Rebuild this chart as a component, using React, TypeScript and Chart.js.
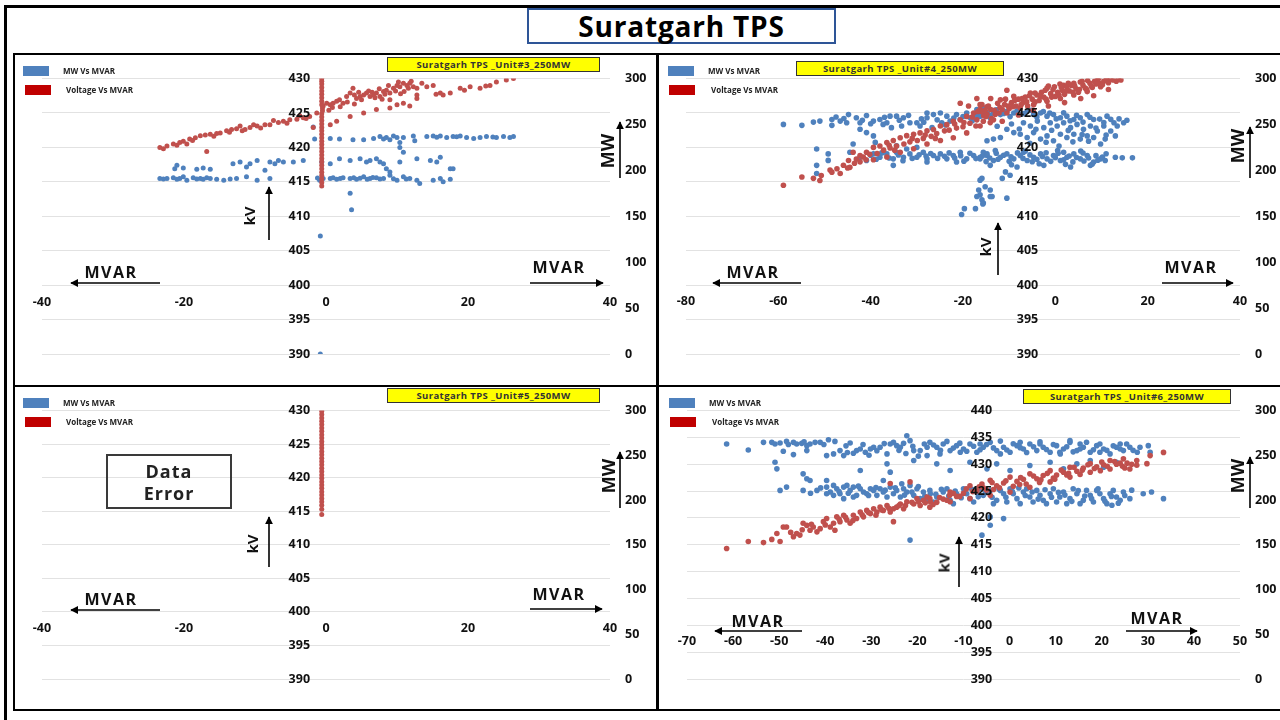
import React, { useEffect, useRef } from 'react';
import { Chart, registerables } from 'chart.js';
Chart.register(...registerables);

type P = [number, number];

// ---------- Unit#3 ----------
const u3Voltage: P[] = [
  [-23.4,420.0],[-22.9,419.8],[-22.4,420.2],[-21.5,420.5],[-21.0,420.3],[-20.6,420.7],[-20.1,420.9],[-19.6,420.5],[-19.2,421.2],[-18.8,421.0],
  [-18.4,421.4],[-17.7,421.7],[-17.0,421.8],[-16.8,419.4],[-16.3,421.9],[-15.8,421.6],[-15.4,422.0],[-14.9,422.1],[-14.0,422.4],[-13.6,422.2],
  [-13.3,422.6],[-12.6,422.7],[-12.1,423.1],[-11.8,422.4],[-11.4,422.6],[-10.7,422.9],[-10.2,423.3],[-9.7,423.1],[-9.2,422.8],[-8.6,423.3],
  [-7.9,423.3],[-7.4,423.9],[-6.7,423.6],[-6.0,423.8],[-5.5,423.5],[-5.1,424.0],[-4.1,424.1],[-3.7,424.6],[-3.2,424.3],[-2.8,424.2],
  [-2.3,424.5],[-1.8,422.9],[-1.3,425.0],
  [-0.6,414.4],[-0.6,414.9],[-0.6,415.4],[-0.6,415.9],[-0.6,416.4],[-0.6,416.9],[-0.6,417.4],[-0.6,417.9],[-0.6,418.4],[-0.6,418.9],
  [-0.6,419.4],[-0.6,419.9],[-0.6,420.4],[-0.6,420.9],[-0.6,421.4],[-0.6,421.9],[-0.6,422.4],[-0.6,422.9],[-0.6,423.4],[-0.6,423.9],
  [-0.6,424.4],[-0.6,424.9],[-0.5,425.3],[-0.5,425.7],[-0.6,426.2],[-0.6,426.7],[-0.6,427.2],[-0.6,427.7],[-0.6,428.2],[-0.6,428.7],
  [-0.6,429.2],[-0.6,429.6],[-0.6,430.0],
  [-0.4,426.0],[0.1,426.4],[0.6,426.2],[1.0,426.4],[1.5,426.7],[1.9,426.9],[2.4,426.4],[2.9,427.4],[3.4,427.9],[3.8,428.6],
  [4.3,427.1],[4.8,427.4],[5.3,427.6],[5.7,427.9],[6.2,427.4],[6.7,427.6],[7.1,427.9],[7.6,427.4],[8.1,428.1],[8.5,428.3],
  [9.0,427.9],[9.5,428.6],[10.0,429.0],[10.4,428.8],[10.9,429.3],[11.4,429.0],[11.8,429.3],[12.3,428.8],[12.8,428.6],[14.2,428.8],
  [15.1,429.0],[16.1,427.9],[16.5,427.6],[17.5,427.9],[18.9,428.6],[20.3,428.8],[21.7,428.6],[23.1,429.0],[24.0,429.5],[25.4,429.8],
  [26.4,430.0],
  [0.6,423.3],[1.5,423.8],[3.4,424.5],[5.3,425.0],[7.1,425.5],[9.0,425.7],[10.0,426.2],[10.9,426.4],[12.8,427.1],[9.0,426.9],
  [11.8,426.0],[12.8,427.6],
  [0.4,425.4],[0.9,425.8],[2.0,425.9],[3.0,426.6],[4.0,426.3],[5.0,426.9],[6.0,428.2],[7.5,428.5],[8.8,429.0],[10.5,427.8],
  [11.0,428.1],[13.5,429.3],[15.5,427.7],[19.5,428.3],[22.5,428.9],
  [4.6,428.0],[6.5,428.0],[7.9,427.0],[8.3,427.7],[9.8,428.2],[11.6,428.6],[4.0,427.6],[6.9,427.2],[12.0,429.6],[10.2,429.5],
];
const u3Mw: P[] = [
  [-1.8,247.2],[-1.6,234.0],[0.6,234.7],[1.9,234.0],[3.8,233.2],[5.3,233.2],[6.7,234.7],[7.6,236.8],[8.1,234.0],[8.5,235.8],
  [9.0,233.2],[9.5,237.5],[10.0,235.8],[10.4,230.4],[10.4,225.0],[10.9,235.8],[10.9,219.7],[12.3,237.5],[12.5,232.2],[14.2,236.8],
  [15.1,237.5],[15.6,236.0],[16.1,237.5],[17.0,235.8],[17.9,236.8],[18.4,236.5],[18.9,237.5],[19.8,235.8],[20.8,234.7],[21.7,235.8],
  [22.6,236.8],[23.5,236.2],[24.0,235.8],[25.0,236.8],[25.9,235.8],[26.4,236.8],
  [-21.3,201.8],[-21.0,205.4],[-20.1,202.5],[-18.2,201.1],[-17.3,202.5],[-16.3,201.1],[-13.1,207.2],[-12.1,209.0],[-11.2,203.6],[-10.7,207.2],
  [-9.7,210.7],[-8.6,200.0],[-7.9,209.0],[-7.2,207.2],[-6.7,210.7],[-6.0,209.0],[-4.6,209.0],[-3.2,210.7],[-0.6,209.0],[0.6,207.2],
  [1.9,212.5],[3.4,210.7],[4.8,212.5],[5.7,209.0],[6.2,210.7],[7.1,212.5],[7.6,209.0],[8.1,207.2],[8.5,201.8],[9.0,198.3],
  [10.4,209.0],[12.8,212.5],[14.7,210.7],[15.6,209.0],[16.1,214.3],[17.5,201.8],[17.9,201.8],
  [-23.4,191.1],[-22.4,191.1],[-21.5,191.8],[-20.6,191.1],[-20.1,192.9],[-19.6,189.3],[-18.7,191.8],[-17.7,191.1],[-17.3,190.4],[-16.3,191.1],
  [-15.4,190.4],[-14.4,189.3],[-12.6,191.1],[-11.2,192.9],[-9.7,189.3],[-7.9,191.1],[-0.9,189.3],[-0.4,191.1],[0.6,191.1],[1.5,190.4],
  [2.4,191.8],[3.4,191.1],[4.3,190.4],[5.3,192.9],[6.2,191.1],[7.1,191.8],[8.1,191.1],[9.0,194.7],[10.0,189.3],[10.9,192.9],
  [11.8,191.1],[12.8,189.3],[13.2,185.7],[15.1,189.3],[16.1,191.1],[16.5,187.5],[17.5,190.4],
  [3.4,175.0],[3.6,157.0],[-0.8,128.5],[-0.8,0],
  [-22.9,190.6],[-21.0,190.4],[-18.2,190.6],[-16.8,191.9],[-13.5,190.6],[1.0,191.8],[2.0,191.0],[3.9,191.9],[4.8,191.4],[5.8,190.2],
  [6.6,192.2],[7.6,190.6],[9.5,190.8],[11.3,190.5],[-1.2,191.6],
];

// ---------- Unit#4 ----------
const u4Voltage: P[] = [
  [-58.9,414.5],[-54.9,415.7],[-52.4,415.5],[-51.0,415.2],[-50.7,415.9],[-48.8,416.7],[-48.4,416.4],[-47.3,416.9],[-46.6,416.2],[-45.9,417.4],
  [-44.8,418.1],[-44.5,417.1],[-43.8,419.3],[-43.1,418.3],[-42.3,418.8],[-42.3,417.9],[-41.6,418.6],[-40.9,419.3],[-40.2,419.0],[-39.4,420.0],
  [-39.4,418.2],[-38.0,420.2],[-37.2,419.6],[-36.5,420.7],[-36.5,418.6],[-35.8,419.9],[-35.1,421.0],[-34.4,420.2],[-33.6,421.4],[-33.6,419.3],
  [-32.2,421.7],[-31.5,420.8],[-30.7,421.9],[-30.7,419.8],[-29.9,421.0],[-29.3,422.1],[-28.6,421.3],[-27.8,422.4],[-27.8,420.5],[-26.9,421.6],
  [-26.4,422.6],[-25.7,422.0],[-24.9,423.1],[-24.9,421.0],[-23.5,423.3],[-23.0,422.5],[-22.1,423.8],[-22.1,421.4],[-21.4,422.8],[-20.6,424.0],
  [-20.0,423.0],[-19.2,424.5],[-19.2,422.1],[-18.5,423.5],[-17.7,425.0],[-17.0,424.0],[-16.3,425.5],[-16.3,423.1],[-15.5,424.6],[-14.8,425.9],
  [-14.1,423.6],
  [-17.0,427.1],[-20.6,426.4],[-15.9,426.2],[-18.8,426.0],[-10.5,428.3],[-14.0,427.1],
  [-16.3,426.2],[-11.9,426.9],[-9.0,427.4],[-5.4,427.9],[-1.8,428.6],[1.8,429.0],[5.4,429.5],[9.1,429.8],[11.2,430.0],[13.7,430.0],
  [-13.4,424.0],[-10.5,425.0],[-7.6,425.7],[-4.7,426.2],[-1.8,426.7],[1.1,427.1],[4.0,427.6],[6.9,428.1],[9.8,428.8],
  [-15.0,424.5],[-14.0,425.5],[-13.0,424.8],[-12.0,425.8],[-11.0,426.2],[-10.0,425.6],[-9.5,426.5],[-8.5,426.0],[-8.0,427.0],[-7.0,426.5],
  [-6.5,427.3],[-6.0,426.0],[-5.0,427.0],[-4.0,427.6],[-3.5,426.8],[-3.0,428.0],[-2.5,427.3],[-1.0,427.8],[-0.5,428.4],[0.0,427.4],
  [0.5,428.0],[1.5,428.3],[2.0,427.7],[2.5,428.8],[3.0,428.2],[3.5,429.0],[4.5,428.5],[5.0,428.0],[6.0,429.0],[6.5,428.6],
  [7.5,429.3],[8.0,428.7],[8.5,429.6],[9.5,429.3],[10.5,429.6],[11.5,429.4],[12.5,429.8],[-16.0,425.2],[-14.5,426.0],[-12.5,426.4],
  [-10.8,427.0],[-1.5,428.9],[1.0,429.2],[4.0,429.3],
  [-15.6,423.8],[-14.8,424.8],[-13.8,424.2],[-13.2,425.4],[-12.2,425.0],[-11.5,425.5],[-10.2,426.0],[-9.2,425.9],[-8.8,426.8],[-7.4,426.2],
  [-7.2,427.1],[-6.2,426.6],[-5.6,427.5],[-4.4,426.6],[-4.4,427.9],[-3.2,427.4],[-2.0,427.0],[-2.2,428.3],[-0.8,427.3],[-0.2,428.8],
  [0.8,427.6],[1.3,428.7],[2.2,428.1],[2.8,429.3],[3.8,428.0],[4.2,428.9],[5.2,428.4],[5.8,429.6],[6.8,428.4],[7.0,429.7],
  [7.8,428.9],[8.8,429.2],[9.4,430.0],[10.2,429.1],[11.0,429.8],[12.0,430.0],[13.2,429.6],[14.2,429.8],[-11.5,423.8],[-8.0,424.7],
  [-4.8,425.4],[-1.5,426.0],[2.0,426.5],[5.5,427.1],[8.3,427.5],[11.5,428.4],
  [-45.0,417.0],[-43.5,417.7],[-41.0,418.2],[-38.6,419.1],[-36.0,420.3],[-34.8,419.6],[-32.8,420.5],[-31.0,421.3],[-28.2,421.8],[-26.0,421.3],
  [-24.0,422.4],[-21.8,423.4],[-19.8,423.6],[-18.0,424.4],[-17.2,423.1],[-16.8,425.2],[-15.2,425.4],
];
const u4Mw: P[] = [
  [-58.9,250.0],[-54.9,249.0],[-52.4,252.5],[-51.0,253.6],[-48.4,255.4],[-48.4,249.0],[-46.6,253.6],[-45.2,251.8],[-44.8,260.7],[-43.1,257.2],
  [-42.3,251.8],[-40.9,259.7],[-39.4,253.6],[-38.0,255.4],[-36.5,251.8],[-35.8,259.0],[-34.4,259.0],[-32.9,257.2],[-31.5,251.8],[-30.0,251.8],
  [-27.8,262.5],[-26.4,260.7],[-24.9,262.5],[-23.5,259.0],[-21.4,260.7],[-19.2,262.5],[-17.0,266.1],[-15.5,267.9],
  [-42.3,244.7],[-40.9,241.1],[-39.4,237.5],[-37.3,250.0],[-35.5,246.5],[-33.3,248.2],[-29.3,248.2],[-27.8,257.2],[-26.7,246.5],[-24.6,251.8],
  [-22.8,253.6],[-20.6,255.4],[-18.4,257.2],[-17.3,259.0],[-16.3,260.7],[-14.8,262.5],[-14.1,257.2],[-43.8,228.6],[-51.7,223.2],[-49.2,217.9],
  [-49.2,210.8],[-51.7,205.4],[-51.7,196.5],
  [-44.5,219.7],[-42.3,214.3],[-40.9,210.7],[-39.4,217.9],[-38.0,214.3],[-36.5,217.9],[-35.1,212.5],[-34.4,219.7],[-32.9,214.3],[-31.5,217.9],
  [-30.0,214.3],[-28.6,219.7],[-27.8,212.5],[-26.4,216.1],[-24.9,217.9],[-23.5,212.5],[-22.1,216.1],[-20.6,219.7],[-19.2,212.5],[-17.7,216.1],
  [-16.3,214.3],[-14.8,217.9],[-35.1,205.4],[-27.8,209.0],[-21.4,209.0],[-32.2,223.2],[-30.0,225.0],[-39.0,230.4],[-34.4,226.8],
  [-16.3,189.3],[-16.6,178.6],[-17.0,171.5],[-15.9,167.9],[-14.1,178.6],[-14.1,171.5],[-15.7,163.3],[-19.7,158.3],[-17.3,158.3],[-20.3,151.9],
  [-16.3,259.0],[-14.8,262.5],[-13.4,264.3],[-11.9,260.7],[-10.5,264.3],[-9.0,262.5],[-7.6,260.7],[-6.1,264.3],[-4.7,260.7],[-3.2,262.5],
  [-1.8,259.0],[-0.4,260.7],[1.1,257.2],[2.5,259.0],[4.0,255.4],[5.4,257.2],[6.9,260.7],[8.3,255.4],[11.2,259.0],[12.7,251.8],
  [14.8,251.8],[-6.9,251.8],[-5.4,248.2],[-3.9,253.6],[-2.5,246.5],[-1.1,251.8],[0.4,248.2],[1.8,251.8],[3.3,246.5],[4.7,250.0],
  [6.1,244.7],[7.6,248.2],[9.1,242.9],[10.5,248.2],[12.0,242.9],[13.4,248.2],[-7.6,239.3],[-6.1,235.7],[-4.7,241.1],[-3.2,234.0],
  [-1.8,237.5],[-0.4,232.2],[1.1,239.3],[2.5,235.7],[4.0,239.3],[5.4,234.0],[6.9,237.5],[8.3,235.7],[9.8,228.6],[-13.4,234.0],
  [-14.8,232.2],[-11.9,235.7],[-9.0,241.1],[-10.5,244.7],
  [-16.3,212.5],[-14.8,216.1],[-13.4,210.7],[-11.9,214.3],[-10.5,217.9],[-9.0,212.5],[-7.6,216.1],[-6.1,210.7],[-4.7,214.3],[-3.2,217.9],
  [-1.8,212.5],[-0.4,216.1],[1.1,210.7],[2.5,214.3],[4.0,217.9],[5.4,212.5],[6.9,216.1],[8.3,209.0],[9.8,212.5],[10.8,210.7],
  [13.0,214.3],[14.5,213.6],[16.7,213.6],[-14.1,205.4],[-8.3,203.6],[-2.5,205.4],[3.3,203.6],[7.6,205.4],[-15.6,219.7],[-6.9,219.7],
  [1.8,219.7],
  [-15.9,191.2],[-15.2,182.2],[-16.3,173.3],[-13.7,171.5],[-15.6,164.4],[-10.5,169.7],[-11.5,191.2],[-10.8,198.3],[-9.8,194.7],
  [-40.0,216.5],[-38.8,212.0],[-37.6,219.0],[-36.0,213.5],[-34.0,216.8],[-33.0,210.5],[-31.0,213.0],[-29.5,216.9],[-28.0,215.5],[-27.0,218.3],
  [-25.5,213.0],[-24.0,215.2],[-23.0,219.0],[-21.8,213.5],[-20.5,216.0],[-19.8,210.0],[-18.5,218.5],[-17.2,212.8],[-15.8,215.6],[-15.0,209.5],
  [-14.2,213.4],[-12.8,218.6],[-12.4,212.0],[-11.2,216.4],[-10.0,209.8],[-9.6,214.8],[-8.2,219.0],[-7.0,213.0],[-5.5,216.8],[-5.0,209.4],
  [-4.0,212.0],[-2.8,215.0],[-2.0,219.2],[-1.0,209.8],[0.0,213.8],[0.6,218.6],[1.8,211.6],[3.0,215.6],[3.8,209.2],[4.6,214.0],
  [6.0,218.8],[6.2,210.2],[7.2,213.4],[8.8,216.0],[9.2,211.0],[10.2,214.6],[11.0,218.0],[-13.0,221.5],[-6.5,221.0],[0.5,221.5],
  [5.5,221.0],[-9.5,206.0],[-3.5,207.2],[2.2,206.5],[8.0,206.8],
  [-15.5,263.5],[-14.0,260.0],[-12.8,266.0],[-11.2,262.0],[-9.8,258.5],[-8.3,264.8],[-6.8,261.8],[-5.2,265.5],[-4.0,258.0],[-2.6,264.0],
  [-1.2,262.3],[0.2,256.0],[1.8,262.6],[3.2,254.0],[4.6,260.0],[6.0,252.5],[7.5,257.8],[9.6,255.8],[10.5,252.0],[12.0,255.5],
  [13.8,256.0],[15.5,254.5],[-12.6,248.0],[-9.5,250.5],[-7.8,245.0],[-4.2,244.8],[-0.8,243.6],[2.8,243.5],[5.8,239.0],[8.8,246.0],
  [11.0,238.5],[13.0,237.5],[-2.0,230.5],[3.8,231.0],[7.2,231.8],[0.8,226.5],[-5.5,229.5],[10.8,234.0],
  [-47.5,258.0],[-45.8,256.5],[-41.8,254.6],[-40.0,250.8],[-37.0,257.8],[-33.8,254.6],[-31.8,259.9],[-29.0,256.0],[-25.6,255.0],[-22.0,257.0],
  [-20.0,258.5],[-18.0,254.0],[-28.5,252.4],[-23.8,249.5],
];

// ---------- Unit#5 ----------
const u5Voltage: P[] = [
  [-0.6,414.5],[-0.6,415.3],[-0.6,415.9],[-0.6,416.4],[-0.6,416.9],[-0.6,417.4],[-0.6,417.9],[-0.6,418.4],[-0.6,418.9],[-0.6,419.4],
  [-0.6,419.9],[-0.6,420.4],[-0.6,420.9],[-0.6,421.4],[-0.6,421.9],[-0.6,422.4],[-0.6,422.9],[-0.6,423.4],[-0.6,423.9],[-0.6,424.4],
  [-0.6,424.9],[-0.6,425.4],[-0.6,425.9],[-0.6,426.4],[-0.6,426.9],[-0.6,427.4],[-0.6,427.9],[-0.6,428.4],[-0.6,428.9],[-0.6,429.4],
  [-0.6,429.9],
];
const u5Mw: P[] = [];

// ---------- Unit#6 ----------
const u6Voltage: P[] = [
  [-61.4,414.3],[-56.7,415.6],[-53.4,415.4],[-51.6,416.0],[-50.5,417.1],[-49.8,415.6],[-49.1,418.3],[-48.4,418.3],[-46.9,416.5],[-46.2,417.1],
  [-45.5,416.8],[-44.8,419.0],[-44.0,418.6],[-43.3,417.7],[-42.6,418.3],[-41.8,417.4],[-41.1,418.0],[-40.4,419.3],[-39.7,419.9],[-38.9,418.3],
  [-38.2,419.0],[-37.9,417.7],[-37.5,420.2],[-36.8,419.3],[-36.0,420.5],[-35.3,419.6],[-34.6,419.0],[-33.9,420.5],[-33.2,419.9],[-32.4,421.1],
  [-31.7,420.2],[-31.0,421.4],[-30.2,420.8],[-29.5,421.7],[-28.8,421.1],[-28.1,422.0],[-27.4,421.4],[-26.6,422.3],[-25.9,421.1],[-25.2,421.7],
  [-24.5,422.0],[-23.7,422.6],[-23.0,421.7],[-22.3,423.0],[-21.6,426.7],[-20.8,422.6],[-20.1,423.6],[-19.4,422.3],[-18.7,423.3],[-17.9,423.9],
  [-17.2,423.0],[-25.2,419.3],[-25.9,426.4],
  [-17.3,423.6],[-12.9,424.8],[-8.6,426.0],[-4.2,427.0],[0.1,427.6],[4.4,428.2],[8.8,428.8],[13.1,429.4],[17.5,430.1],[21.8,430.7],
  [24.7,431.0],[-17.3,422.0],[-12.9,423.0],[-8.6,423.6],[-4.2,424.2],[0.1,424.8],[4.4,425.7],[8.8,426.7],[13.1,427.6],[17.5,428.5],
  [21.8,429.1],[26.1,429.1],
  [-15.8,422.9],[-14.4,423.5],[-11.5,424.0],[-10.0,424.6],[-7.1,425.0],[-5.7,425.6],[-2.8,426.0],[-1.3,426.5],[1.6,426.8],[3.0,427.2],
  [5.9,427.3],[7.3,427.9],[10.2,428.0],[11.7,428.5],[14.6,428.7],[16.0,429.3],[18.9,429.5],[20.4,429.9],[23.2,430.0],[-13.0,424.2],
  [-6.0,426.3],[-3.5,425.3],[2.2,426.2],[6.5,426.6],[9.5,427.4],[12.4,428.0],[15.3,428.1],[19.7,428.8],[24.5,429.6],[25.5,430.2],
  [27.6,430.7],[30.5,431.6],[33.4,432.2],[29.8,430.1],[27.6,429.8],
  [-16.6,422.5],[-15.2,423.8],[-13.6,423.3],[-12.2,424.6],[-10.8,424.0],[-9.4,425.4],[-8.0,424.9],[-6.6,425.8],[-5.0,425.2],[-3.8,426.6],
  [-2.2,425.6],[-0.8,426.9],[0.8,425.9],[2.4,427.5],[3.6,426.3],[5.2,427.8],[6.8,427.1],[8.2,428.3],[9.8,427.2],[11.2,428.9],
  [12.8,428.3],[14.0,429.4],[15.8,428.9],[17.0,429.9],[18.4,429.2],[20.0,430.4],[21.2,429.6],[22.8,430.5],[24.0,430.2],[25.0,429.3],
  [26.5,430.0],
  [-47.5,417.3],[-45.0,417.8],[-43.0,418.8],[-40.0,418.7],[-37.0,419.8],[-35.6,420.1],[-34.0,419.5],[-32.0,420.6],[-30.6,421.0],[-29.0,420.5],
  [-27.8,421.5],[-26.2,421.8],[-24.0,422.3],[-22.6,422.3],[-21.2,422.9],[-19.8,423.0],[-18.3,422.8],
];
const u6Mw: P[] = [
  [-61.4,262.6],[-56.7,255.9],[-53.4,264.4],[-51.6,264.4],[-50.9,262.6],[-49.8,263.7],[-48.4,265.5],[-46.9,264.4],[-46.2,262.6],[-45.1,263.3],
  [-44.0,260.7],[-43.3,262.6],[-42.2,264.4],[-41.1,264.4],[-44.0,255.2],[-49.1,254.4],[-46.9,250.7],[-39.3,267.4],[-37.9,265.5],[-39.7,249.6],
  [-38.2,251.5],[-36.8,255.2],[-36.0,249.6],[-34.6,263.7],[-33.9,252.2],[-33.2,255.2],[-32.4,257.0],[-31.3,253.3],[-30.2,257.0],[-29.5,258.9],
  [-28.1,258.9],[-26.6,251.5],[-25.9,262.6],[-25.2,264.4],[-24.5,260.7],[-23.7,258.9],[-23.0,263.3],[-22.3,271.8],[-21.6,266.3],[-20.8,255.2],
  [-19.4,255.2],[-17.9,258.9],[-17.9,249.6],[-20.8,244.1],
  [-50.9,242.2],[-50.5,234.8],[-44.8,229.2],[-44.0,223.7],[-43.3,221.8],[-39.7,221.8],[-32.4,233.0],[-26.6,240.4],[-25.9,231.1],[-27.4,221.8],
  [-49.8,210.7],[-48.4,214.4],[-44.8,210.7],[-41.8,210.7],[-39.7,214.4],[-38.9,208.9],[-38.2,216.3],[-37.5,212.6],[-36.8,207.0],[-36.0,214.4],
  [-35.3,216.3],[-34.6,210.7],[-33.9,214.4],[-33.9,203.3],[-32.4,212.6],[-31.7,208.9],[-31.0,207.0],[-30.2,212.6],[-29.5,210.7],[-28.8,205.2],
  [-28.1,212.6],[-27.4,208.9],[-26.6,203.3],[-25.9,214.4],[-25.2,207.0],[-24.5,210.7],[-23.7,203.3],[-23.0,212.6],[-22.3,208.9],[-21.6,216.3],
  [-20.8,205.2],[-20.1,212.6],[-19.4,201.5],[-18.7,208.9],[-17.9,199.6],[-17.2,207.0],[-38.2,205.2],[-36.0,201.5],[-33.2,205.2],[-39.7,207.0],
  [-23.4,218.1],[-21.6,155.2],
  [-17.3,264.4],[-15.8,258.9],[-14.4,262.6],[-12.9,255.2],[-11.5,260.7],[-10.0,257.0],[-8.6,262.6],[-7.1,253.3],[-5.7,258.9],[-4.2,264.4],
  [-2.8,255.2],[-1.3,258.9],[0.1,253.3],[1.6,260.7],[3.0,257.0],[4.4,262.6],[5.9,255.2],[7.3,258.9],[8.8,253.3],[10.2,260.7],
  [11.7,257.0],[13.1,264.4],[14.6,255.2],[16.0,258.9],[17.5,253.3],[18.9,260.7],[20.4,257.0],[21.8,251.5],[23.2,258.9],[24.7,255.2],
  [26.1,258.9],[28.3,258.9],[30.1,260.7],[27.7,253.3],[30.5,253.3],
  [-15.1,251.5],[-10.7,253.3],[-6.4,262.6],[-2.0,251.5],[2.3,264.4],[6.6,262.6],[10.9,253.3],[15.3,262.6],[19.6,253.3],[24.0,262.6],
  [13.1,266.3],
  [-15.8,240.4],[-12.9,233.0],[-8.6,242.2],[-2.8,240.4],[0.1,233.0],[4.4,238.5],[8.8,242.2],[11.7,234.8],[14.6,240.4],[17.5,244.1],
  [20.4,236.7],[23.2,242.2],[-4.9,234.8],
  [-17.3,210.7],[-15.8,203.3],[-14.4,208.9],[-12.9,199.6],[-11.5,207.0],[-10.0,212.6],[-8.6,201.5],[-7.1,208.9],[-5.7,205.2],[-4.2,210.7],
  [-2.8,199.6],[-1.3,207.0],[0.1,212.6],[1.6,201.5],[3.0,208.9],[4.4,203.3],[5.9,210.7],[7.3,199.6],[8.8,207.0],[10.2,197.8],
  [11.7,208.9],[13.1,201.5],[14.6,207.0],[16.0,199.6],[17.5,205.2],[18.9,210.7],[20.4,201.5],[21.8,207.0],[23.2,203.3],[24.7,208.9],
  [26.1,201.5],
  [-16.6,197.8],[-13.6,212.6],[-12.2,195.9],[-9.3,207.0],[-7.8,197.8],[-6.4,212.6],[-3.5,195.9],[-2.0,210.7],[-0.6,197.8],[0.8,207.0],
  [2.3,195.9],[3.7,212.6],[5.1,197.8],[6.6,205.2],[8.0,195.9],[9.5,212.6],[10.9,203.3],[12.4,195.9],[13.8,212.6],[15.3,195.9],
  [16.7,210.7],[18.2,197.8],[19.6,207.0],[21.1,195.9],[22.5,210.7],[24.0,199.6],[22.2,194.1],
  [29.0,207.0],[30.8,208.9],[33.4,201.5],[-4.2,181.1],[-1.3,179.2],[-6.0,160.7],[-4.2,171.8],
  [-16.5,261.5],[-15.0,255.5],[-13.6,265.5],[-12.2,258.0],[-10.8,263.5],[-9.3,254.5],[-7.8,260.0],[-6.4,256.2],[-5.0,262.0],[-3.5,258.2],
  [-2.0,265.8],[-0.6,255.8],[0.8,262.8],[2.3,258.5],[3.7,253.0],[5.2,259.5],[6.6,265.0],[8.0,256.5],[9.5,262.0],[11.0,251.5],
  [12.4,259.5],[13.8,253.8],[15.3,257.0],[16.7,264.5],[18.2,256.2],[19.6,262.5],[21.1,255.5],[22.5,260.5],[24.0,257.0],[25.4,262.5],
  [26.8,255.5],
  [-48.0,262.0],[-44.6,265.0],[-40.3,262.0],[-35.5,260.5],[-31.8,262.0],[-28.8,255.0],[-27.2,263.0],[-24.0,255.5],[-21.0,260.0],[-18.5,262.5],
  [-19.8,249.0],[-22.5,252.0],[-30.5,250.0],[-35.2,253.0],
  [-16.0,206.5],[-14.8,212.0],[-13.2,204.5],[-11.8,210.0],[-10.5,202.5],[-9.8,208.5],[-8.2,212.0],[-6.8,203.5],[-5.2,208.0],[-3.8,203.0],
  [-2.3,212.2],[-0.8,203.0],[0.6,209.5],[2.0,213.5],[3.4,205.0],[4.9,209.0],[6.2,201.0],[7.7,211.5],[9.1,203.0],[10.6,208.5],
  [12.0,205.5],[13.5,198.5],[14.9,210.5],[16.3,204.5],[17.8,201.5],[19.2,212.5],[20.7,198.5],[22.1,204.0],[23.6,196.5],[25.0,205.0],
  [26.5,211.0],
  [-43.2,207.5],[-41.0,213.5],[-37.0,209.5],[-35.0,207.5],[-32.8,215.5],[-30.6,205.0],[-29.0,214.0],[-27.0,211.0],[-24.8,213.5],[-22.8,205.5],
  [-21.2,209.0],[-19.8,215.0],[-18.4,204.0],
];

const FONT = "'Open Sans', 'DejaVu Sans', sans-serif";
const BLUE = '#4F81BD';
const RED = '#C0504D';
const LEG_BLUE = '#4F81BD';
const LEG_RED = '#C00000';
const GRID = '#e2e2e2';
const TICK = '#111111';

type PanelProps = {
  left: number; top: number; width: number; height: number;
  pad: { left: number; right: number; top: number; bottom: number };
  xMin: number; xMax: number; xStep: number;
  kvMin: number; kvMax: number; kvAt: number; xPad: number;
  voltage: P[]; mw: P[]; radius: number;
};

function Panel(p: PanelProps) {
  const ref = useRef<HTMLCanvasElement>(null);
  useEffect(() => {
    const tickFont = { family: FONT, size: 12.5, weight: 'bold' as const };
    const chart = new Chart(ref.current as HTMLCanvasElement, {
      type: 'scatter',
      data: {
        datasets: [
          { label: 'Voltage Vs MVAR', data: p.voltage.map(([x, y]) => ({ x, y })), yAxisID: 'y',
            backgroundColor: RED, borderWidth: 0, pointRadius: p.radius, pointHoverRadius: p.radius },
          { label: 'MW Vs MVAR', data: p.mw.map(([x, y]) => ({ x, y })), yAxisID: 'y2',
            backgroundColor: BLUE, borderWidth: 0, pointRadius: p.radius, pointHoverRadius: p.radius },
        ],
      },
      options: {
        animation: false,
        responsive: false,
        maintainAspectRatio: false,
        layout: { padding: p.pad },
        plugins: { legend: { display: false }, tooltip: { enabled: false } },
        scales: {
          x: {
            type: 'linear', min: p.xMin, max: p.xMax, position: { y: 400 },
            grid: { display: false, drawTicks: false }, border: { display: false },
            ticks: { stepSize: p.xStep, font: tickFont, color: TICK, padding: p.xPad, maxRotation: 0, autoSkip: false, z: 1 },
          },
          y: {
            type: 'linear', min: p.kvMin, max: p.kvMax, position: { x: p.kvAt },
            grid: { color: GRID, lineWidth: 1, drawTicks: false }, border: { display: false },
            ticks: { stepSize: 5, font: tickFont, color: TICK, padding: 0, z: 1 },
          },
          y2: {
            type: 'linear', axis: 'y', min: 0, max: 300, position: 'right',
            grid: { display: false, drawTicks: false }, border: { display: false },
            ticks: { stepSize: 50, font: tickFont, color: TICK, padding: 15, crossAlign: 'near' },
            afterFit: (s: any) => { s.width = 40; },
          },
        },
      } as any,
    });
    return () => chart.destroy();
  }, []);
  return (
    <canvas ref={ref} width={p.width} height={p.height}
      style={{ position: 'absolute', left: p.left, top: p.top, width: p.width, height: p.height, display: 'block' }} />
  );
}

const Txt = ({ x, y, children, size, rot = 0, left = false, weight = 700, ls = 0, color = '#111' }: any) => (
  <div style={{
    position: 'absolute', left: x, top: y, fontFamily: FONT, fontSize: size, fontWeight: weight, color,
    letterSpacing: ls, whiteSpace: 'nowrap', lineHeight: 1,
    transform: `translate(${left ? '0' : '-50%'}, -50%) rotate(${rot}deg)`,
  }}>{children}</div>
);

const Box = ({ x, y, w, h, bg, border }: any) => (
  <div style={{ position: 'absolute', left: x, top: y, width: w, height: h, background: bg, border, boxSizing: 'border-box' }} />
);

const Legend = ({ x, y, dx = 0 }: any) => (
  <>
    <Box x={x} y={y} w={26} h={10} bg={LEG_BLUE} />
    <Txt x={x + 40} y={y + 5} size={8} left color="#222">MW Vs MVAR</Txt>
    <Box x={x + 2 + dx} y={y + 19} w={26} h={10} bg={LEG_RED} />
    <Txt x={x + 43} y={y + 24} size={8} left color="#222">Voltage Vs MVAR</Txt>
  </>
);

const Tag = ({ x, y, w, children }: any) => (
  <div style={{
    position: 'absolute', left: x, top: y, width: w, height: 15, background: '#FFFF00', border: '1px solid #333',
    boxSizing: 'border-box', display: 'flex', alignItems: 'center', justifyContent: 'center',
    fontFamily: FONT, fontSize: 9.5, fontWeight: 700, color: '#333', letterSpacing: 0.4, whiteSpace: 'nowrap',
  }}>{children}</div>
);

const arrows: number[][] = [
  [269, 240, 269, 187], [620, 178, 620, 122], [160, 283, 71, 283], [530, 283, 603, 283],
  [998, 275, 998, 223], [1250, 178, 1250, 127], [801, 283, 713, 283], [1162, 283, 1233, 283],
  [269, 567, 269, 517], [620, 508, 620, 452], [160, 610, 71, 610], [530, 609, 602, 609],
  [959, 587, 959, 537], [1250, 508, 1250, 457], [802, 631, 715, 631], [1126, 631, 1197, 631],
];

export default function App() {
  return (
    <div style={{ position: 'absolute', left: 0, top: 0, width: 1280, height: 720, overflow: 'hidden', background: '#fff' }}>
      <Box x={4} y={5} w={1276} h={3} bg="#000" />
      <Box x={4} y={5} w={3} h={715} bg="#000" />
      <Box x={13} y={53} w={1267} h={2} bg="#000" />
      <Box x={13} y={385} w={1267} h={2} bg="#000" />
      <Box x={13} y={709} w={1267} h={2} bg="#000" />
      <Box x={13} y={53} w={2} h={658} bg="#000" />
      <Box x={656} y={53} w={3} h={658} bg="#000" />

      <div style={{
        position: 'absolute', left: 527, top: 8, width: 309, height: 36, border: '2px solid #2E5597', boxSizing: 'border-box',
        display: 'flex', alignItems: 'center', justifyContent: 'center', fontFamily: FONT, fontSize: 28, fontWeight: 700,
        letterSpacing: 0.8, color: '#000',
      }}>Suratgarh TPS</div>

      <Panel left={15} top={56} width={641} height={328} pad={{ left: 27, right: 6, top: 19, bottom: 30 }} radius={2.5}
        xMin={-40} xMax={40} xStep={20} kvMin={390} kvMax={430} kvAt={-2.25} xPad={10} voltage={u3Voltage} mw={u3Mw} />
      <Panel left={659} top={56} width={621} height={328} pad={{ left: 27, right: 0, top: 19, bottom: 30 }} radius={2.8}
        xMin={-80} xMax={40} xStep={20} kvMin={390} kvMax={430} kvAt={-3.7} xPad={9} voltage={u4Voltage} mw={u4Mw} />
      <Panel left={15} top={388} width={641} height={320} pad={{ left: 27, right: 6, top: 20, bottom: 29 }} radius={2.5}
        xMin={-40} xMax={40} xStep={20} kvMin={390} kvMax={430} kvAt={-2.25} xPad={9} voltage={u5Voltage} mw={u5Mw} />
      <Panel left={659} top={388} width={621} height={320} pad={{ left: 28, right: 0, top: 20, bottom: 29 }} radius={2.8}
        xMin={-70} xMax={50} xStep={10} kvMin={390} kvMax={440} kvAt={-3.8} xPad={9} voltage={u6Voltage} mw={u6Mw} />

      <Legend x={23} y={66} />
      <Legend x={668} y={66} dx={-1} />
      <Legend x={23} y={398} />
      <Legend x={669} y={398} dx={-1} />

      <Tag x={387} y={57} w={213}>Suratgarh TPS _Unit#3_250MW</Tag>
      <Tag x={796} y={61} w={208}>Suratgarh TPS _Unit#4_250MW</Tag>
      <Tag x={387} y={388} w={213}>Suratgarh TPS _Unit#5_250MW</Tag>
      <Tag x={1023} y={389} w={208}>Suratgarh TPS _Unit#6_250MW</Tag>

      <Txt x={249} y={216} size={15} rot={-90}>kV</Txt>
      <Txt x={607} y={151} size={18} rot={-90}>MW</Txt>
      <Txt x={111} y={272} size={16} ls={1.5}>MVAR</Txt>
      <Txt x={559} y={267} size={16} ls={1.5}>MVAR</Txt>

      <Txt x={985} y={247} size={15} rot={-90}>kV</Txt>
      <Txt x={1237} y={146} size={18} rot={-90}>MW</Txt>
      <Txt x={753} y={272} size={16} ls={1.5}>MVAR</Txt>
      <Txt x={1191} y={267} size={16} ls={1.5}>MVAR</Txt>

      <Txt x={252} y={544} size={15} rot={-90}>kV</Txt>
      <Txt x={608} y={476} size={18} rot={-90}>MW</Txt>
      <Txt x={111} y={599} size={16} ls={1.5}>MVAR</Txt>
      <Txt x={559} y={594} size={16} ls={1.5}>MVAR</Txt>

      <Txt x={944} y={563} size={15} rot={-90}>kV</Txt>
      <Txt x={1237} y={476} size={18} rot={-90}>MW</Txt>
      <Txt x={758} y={621} size={16} ls={1.5}>MVAR</Txt>
      <Txt x={1157} y={618} size={16} ls={1.5}>MVAR</Txt>

      <div style={{
        position: 'absolute', left: 106, top: 454, width: 126, height: 55, border: '2px solid #3a3a3a', boxSizing: 'border-box',
        display: 'flex', flexDirection: 'column', alignItems: 'center', justifyContent: 'center', fontFamily: FONT,
        fontSize: 18, fontWeight: 700, letterSpacing: 1, color: '#222', lineHeight: '22px',
      }}>
        <div>Data</div>
        <div>Error</div>
      </div>

      <svg width={1280} height={720} style={{ position: 'absolute', left: 0, top: 0, pointerEvents: 'none' }}>
        <defs>
          <marker id="ah" viewBox="0 0 10 10" refX="9" refY="5" markerWidth="5" markerHeight="5" orient="auto">
            <path d="M0,0 L10,5 L0,10 z" fill="#000" />
          </marker>
        </defs>
        {arrows.map((a, i) => (
          <line key={i} x1={a[0]} y1={a[1]} x2={a[2]} y2={a[3]} stroke="#000" strokeWidth={1.6} markerEnd="url(#ah)" />
        ))}
      </svg>
    </div>
  );
}
